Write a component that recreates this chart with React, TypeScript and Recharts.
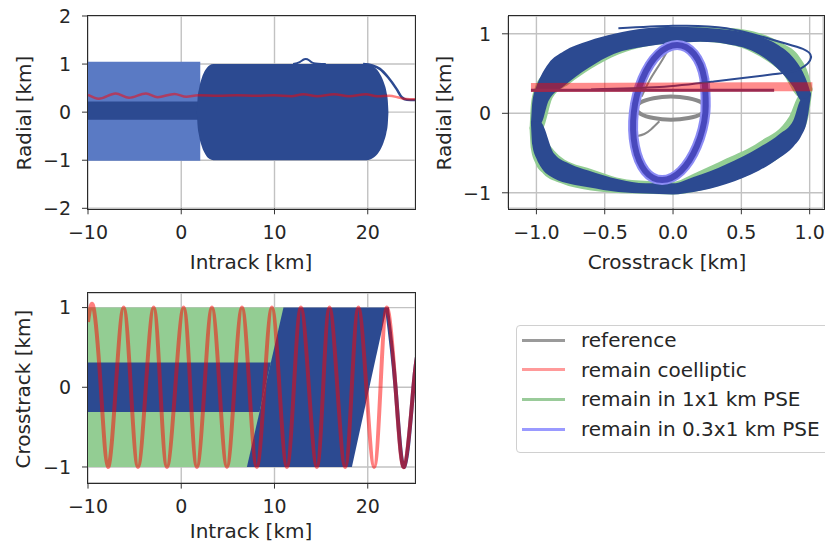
import React from 'react';
import { ComposedChart, Area, Line, XAxis, YAxis, CartesianGrid } from 'recharts';

const FONT = "'DejaVu Sans', sans-serif";
const DARK_BLUE = '#2c4a91';
const LIGHT_BLUE = '#5a7ac4';
const GREEN = '#93cd93';
const RED = '#ff0000';
const LAVENDER = '#8c8cf4';
const PURPLE = '#4848bc';
const GRAY = '#8a8a8a';

// ---- top left: intrack vs radial ----  rows are [x, low, high] or [x, y]
const radialLightBand = [[-10, -1.01, 1.05], [2.04, -1.01, 1.05]];
const radialCoreBand = [[-10, -0.16, 0.22], [2.2, -0.16, 0.22]];
const radialBlob = [
  [1.68, 0, 0], [1.75, -0.28, 0.28], [1.9, -0.48, 0.48], [2.2, -0.71, 0.71], [2.6, -0.88, 0.88],
  [3.0, -0.97, 0.97], [3.46, -1.0, 1.0], [19.9, -1.0, 1.0], [20.6, -0.95, 0.95], [21.2, -0.83, 0.83],
  [21.7, -0.63, 0.63], [22.0, -0.43, 0.43], [22.15, -0.24, 0.24], [22.22, 0, 0],
];
const radialBump = [[12.0, 1.0], [12.7, 1.04], [13.2, 1.1], [13.7, 1.08], [14.2, 1.02], [15.5, 1.0]];
const radialTrail = [[19.5, 1.0], [20.5, 0.97], [21.3, 0.9], [22.2, 0.72], [23.1, 0.48], [23.65, 0.31], [24.2, 0.26], [25.3, 0.25]];
const radialCoelliptic = [
  [-10, 0.36], [-8.85, 0.28], [-7.04, 0.39], [-5.6, 0.3], [-3.79, 0.39], [-2.53, 0.31], [-0.72, 0.38],
  [0.54, 0.32], [1.8, 0.35], [4, 0.34], [6, 0.35], [8, 0.34], [10, 0.35], [11.8, 0.33], [13.1, 0.37],
  [14.6, 0.33], [16.4, 0.37], [18, 0.33], [19.8, 0.37], [21, 0.33], [22.3, 0.34], [23.2, 0.31],
  [23.8, 0.28], [24.5, 0.27], [25.3, 0.27],
];

// ---- top right: crosstrack vs radial ----
const greenRingUpper = [
  [-1.05, -0.2, -0.2], [-1.04, -0.2, 0.12], [-1.01, -0.2, 0.33], [-0.96, -0.2, 0.48], [-0.88, 0.2, 0.64],
  [-0.76, 0.37, 0.79], [-0.6, 0.56, 0.91], [-0.4, 0.74, 1.0], [-0.2, 0.84, 1.06], [0.0, 0.88, 1.09],
  [0.2, 0.9, 1.09], [0.45, 0.85, 1.07], [0.63, 0.72, 1.01], [0.8, 0.5, 0.88], [0.93, 0.2, 0.7],
  [0.99, 0.2, 0.5], [1.02, 0.3, 0.3],
];
const greenRingLower = [
  [-1.05, -0.2, -0.17], [-1.04, -0.45, -0.17], [-1.01, -0.62, -0.17], [-0.95, -0.76, -0.3], [-0.82, -0.88, -0.55],
  [-0.6, -0.97, -0.7], [-0.3, -1.01, -0.84], [0.0, -1.02, -0.86], [0.15, -0.99, -0.76], [0.39, -0.88, -0.57],
  [0.63, -0.71, -0.36], [0.85, -0.45, -0.04], [0.93, -0.28, 0.23], [0.99, -0.05, 0.23], [1.02, 0.3, 0.33],
];
const blueRingUpper = [
  [-1.04, -0.13, -0.13], [-1.03, -0.13, 0.14], [-1.0, -0.13, 0.34], [-0.97, -0.13, 0.46], [-0.91, 0.16, 0.63],
  [-0.8, 0.34, 0.78], [-0.62, 0.57, 0.91], [-0.43, 0.75, 1.0], [-0.2, 0.84, 1.07], [0.0, 0.88, 1.09],
  [0.2, 0.9, 1.08], [0.4, 0.87, 1.05], [0.51, 0.83, 1.02], [0.63, 0.74, 0.97], [0.76, 0.57, 0.87],
  [0.88, 0.33, 0.7], [0.94, 0.16, 0.55], [0.98, 0.16, 0.4], [1.01, 0.24, 0.24],
];
const blueRingLower = [
  [-1.04, -0.13, -0.1], [-1.03, -0.4, -0.1], [-1.0, -0.57, -0.1], [-0.97, -0.67, -0.11], [-0.87, -0.82, -0.51],
  [-0.75, -0.89, -0.64], [-0.62, -0.93, -0.72], [-0.4, -0.99, -0.83], [-0.2, -1.01, -0.88], [0.0, -1.02, -0.88],
  [0.15, -0.99, -0.8], [0.27, -0.95, -0.73], [0.39, -0.89, -0.64], [0.63, -0.72, -0.43], [0.78, -0.56, -0.26],
  [0.88, -0.42, -0.09], [0.94, -0.28, 0.18], [0.98, -0.1, 0.19], [1.01, 0.24, 0.27],
];
const narrowPseLoop = [
  [0.237, 0.01], [0.229, 0.435], [0.154, 0.746], [0.03, 0.86], [-0.108, 0.746], [-0.224, 0.435],
  [-0.287, 0.01], [-0.279, -0.415], [-0.204, -0.726], [-0.08, -0.84], [0.058, -0.726], [0.174, -0.415],
  [0.237, 0.01], [0.229, 0.435],
];
const referenceLoop = [
  [0.24, 0.065], [0.206, 0.138], [0.113, 0.19], [-0.015, 0.21], [-0.143, 0.19], [-0.236, 0.138],
  [-0.27, 0.065], [-0.236, -0.008], [-0.143, -0.06], [-0.015, -0.08], [0.113, -0.06], [0.206, -0.008],
  [0.24, 0.065], [0.206, 0.138],
];
const referenceApproach = [[-0.01, 0.88], [-0.09, 0.64], [-0.17, 0.42], [-0.23, 0.21]];
const referenceExit = [[-0.1, -0.1], [-0.16, -0.2], [-0.21, -0.26], [-0.27, -0.29]];
const coellipticBand = [[-1.04, 0.325], [1.02, 0.335]];
const coellipticCore = [[-1.04, 0.29], [0.74, 0.29]];
const departLoop = [
  [-0.6, 0.3], [-0.1, 0.33], [0.3, 0.4], [0.73, 0.49], [0.93, 0.56], [1.01, 0.7], [0.95, 0.81],
  [0.76, 0.91], [0.39, 1.07], [0.0, 1.1], [-0.4, 1.07],
];

// ---- bottom left: intrack vs crosstrack ----
const crossGreen = [[-10, -1, 1], [11.0, -1, 1]];
const crossCoreBand = [[-10, -0.31, 0.31], [8.39, -0.31, 0.31], [9.61, 0.31, 0.31]];
const crossSweep = [[7.04, -1, -1], [10.96, -1, 1], [18.3, -1, 1], [22.05, 1, 1]];
const crossTrail = [[22.05, 1], [22.98, 0], [23.9, -1], [24.9, 0], [25.4, 0.45]];
const crossCoelliptic = [
  [-10, 0.82], [-9.4, 1], [-8.63, 0], [-7.86, -1], [-7.02, 0], [-6.18, 1], [-5.41, 0], [-4.64, -1],
  [-3.8, 0], [-2.96, 1], [-2.25, 0], [-1.53, -1], [-0.64, 0], [0.25, 1], [0.97, 0], [1.68, -1],
  [2.49, 0], [3.29, 1], [4.1, 0], [4.9, -1], [5.7, 0], [6.51, 1], [7.3, 0], [8.1, -1], [8.91, 0],
  [9.72, 1], [10.53, 0], [11.33, -1], [12.08, 0], [12.83, 1], [13.69, 0], [14.54, -1], [15.22, 0],
  [15.9, 1], [16.74, 0], [17.58, -1], [18.29, 0], [19.0, 1], [19.85, 0], [20.69, -1], [21.37, 0],
  [22.05, 1], [22.98, 0], [23.9, -1], [24.9, 0], [25.4, 0.45],
];

const intrackTicks = [-10, 0, 10, 20];
const radialTicks = [-2, -1, 0, 1, 2];
const unitTicks = [-1, 0, 1];
const crossTicks = [-1, -0.5, 0, 0.5, 1];

const legendItems = [
  { label: 'reference', color: '#9a9a9a' },
  { label: 'remain coelliptic', color: '#ff9a9a' },
  { label: 'remain in 1x1 km PSE', color: '#9acb9a' },
  { label: 'remain in 0.3x1 km PSE', color: '#9a9aff' },
];

const minus = (s: string) => s.replace('-', '\u2212');
const intFmt = (v: number) => minus(String(v));
const oneDec = (v: number) => minus(v.toFixed(1));

const rng = (rows: number[][]) => rows.map(([x, lo, hi]) => ({ x, v: [lo, hi] }));
const pts = (rows: number[][]) => rows.map(([x, y]) => ({ x, y }));

function band(key: string, rows: number[][], fill: string, type: any = 'linear', opacity = 1) {
  return (
    <Area key={key} data={rng(rows)} dataKey="v" type={type} fill={fill} fillOpacity={opacity}
      stroke="none" isAnimationActive={false} />
  );
}

function path(key: string, rows: number[][], color: string, width: number, type: any = 'natural', opacity = 1) {
  return (
    <Line key={key} data={pts(rows)} dataKey="y" type={type} stroke={color} strokeWidth={width}
      strokeOpacity={opacity} dot={false} activeDot={false} isAnimationActive={false} />
  );
}

const tickStyle = { fontSize: 19, fill: '#262626', fontFamily: FONT };

function Panel({ L, T, R, B, xDomain, yDomain, xTicks, yTicks, xFmt, yFmt, children }: any) {
  const YW = 80;
  const XH = 45;
  const top = 14;
  const right = 6;
  return (
    <>
      <div style={{ position: 'absolute', left: L - YW, top: T - top }}>
        <ComposedChart width={R - L + YW + right} height={B - T + top + XH}
          margin={{ top, right, bottom: 0, left: 0 }}>
          <CartesianGrid stroke="#c2c2c2" strokeWidth={1.4} />
          <XAxis type="number" dataKey="x" domain={xDomain} ticks={xTicks} interval={0} allowDataOverflow
            height={XH} tickSize={6} tickMargin={11} axisLine={false} tickLine={{ stroke: '#333' }}
            tick={tickStyle} tickFormatter={xFmt} />
          <YAxis type="number" domain={yDomain} ticks={yTicks} interval={0} allowDataOverflow
            width={YW} tickSize={6} tickMargin={11} axisLine={false} tickLine={{ stroke: '#333' }}
            tick={tickStyle} tickFormatter={yFmt} />
          {children}
        </ComposedChart>
      </div>
      <div style={{
        position: 'absolute', left: L - 0.75, top: T - 0.75, width: R - L, height: B - T,
        border: '1.5px solid #2a2a2a', pointerEvents: 'none',
      }} />
    </>
  );
}

function AxisLabel({ x, y, text, rotate }: { x: number; y: number; text: string; rotate?: boolean }) {
  return (
    <div style={{
      position: 'absolute', left: x, top: y, whiteSpace: 'nowrap', fontSize: 20, lineHeight: '20px',
      color: '#262626', transform: `translate(-50%, -50%)${rotate ? ' rotate(-90deg)' : ''}`,
    }}>{text}</div>
  );
}

export default function App() {
  return (
    <div style={{
      position: 'absolute', left: 0, top: 0, width: 825, height: 550, background: '#fff',
      fontFamily: FONT, overflow: 'hidden',
    }}>
      <Panel L={87.7} T={16} R={415} B={208.3} xDomain={[-10, 25.1]} yDomain={[-2, 2]}
        xTicks={intrackTicks} yTicks={radialTicks} xFmt={intFmt} yFmt={intFmt}>
        {band('light', radialLightBand, LIGHT_BLUE)}
        {band('core', radialCoreBand, DARK_BLUE)}
        {band('blob', radialBlob, DARK_BLUE, 'monotone')}
        {path('bump', radialBump, DARK_BLUE, 2)}
        {path('trail', radialTrail, DARK_BLUE, 2.5, 'monotone')}
        {path('coell', radialCoelliptic, RED, 2.5, 'monotone', 0.5)}
      </Panel>

      <Panel L={508.3} T={16} R={823.5} B={208.3} xDomain={[-1.208, 1.099]} yDomain={[-1.195, 1.224]}
        xTicks={crossTicks} yTicks={unitTicks} xFmt={oneDec} yFmt={intFmt}>
        {band('gU', greenRingUpper, GREEN, 'monotone')}
        {band('gL', greenRingLower, GREEN, 'monotone')}
        {band('bU', blueRingUpper, DARK_BLUE, 'monotone')}
        {band('bL', blueRingLower, DARK_BLUE, 'monotone')}
        {path('refA', referenceApproach, GRAY, 2)}
        {path('refE', referenceExit, GRAY, 2)}
        {path('refL', referenceLoop, GRAY, 4)}
        {path('pseOuter', narrowPseLoop, LAVENDER, 10)}
        {path('pseInner', narrowPseLoop, PURPLE, 6)}
        {path('depart', departLoop, DARK_BLUE, 2)}
        {path('cBand', coellipticBand, RED, 9, 'linear', 0.45)}
        {path('cCore', coellipticCore, '#9a2a50', 3, 'linear')}
      </Panel>

      <Panel L={87.7} T={292.7} R={415} B={482.3} xDomain={[-10, 25.1]} yDomain={[-1.196, 1.183]}
        xTicks={intrackTicks} yTicks={unitTicks} xFmt={intFmt} yFmt={intFmt}>
        {band('green', crossGreen, GREEN)}
        {band('core', crossCoreBand, DARK_BLUE)}
        {band('sweep', crossSweep, DARK_BLUE)}
        {path('trail', crossTrail, DARK_BLUE, 4)}
        {path('coell', crossCoelliptic, RED, 4, 'natural', 0.5)}
      </Panel>

      <AxisLabel x={24} y={113} text="Radial [km]" rotate />
      <AxisLabel x={251} y={262} text="Intrack [km]" />
      <AxisLabel x={444} y={113} text="Radial [km]" rotate />
      <AxisLabel x={667} y={262} text="Crosstrack [km]" />
      <AxisLabel x={23} y={389} text="Crosstrack [km]" rotate />
      <AxisLabel x={251} y={531} text="Intrack [km]" />

      <div style={{
        position: 'absolute', left: 516, top: 325, width: 312, height: 126,
        border: '1px solid #d0d0d0', borderRadius: 4, background: '#fff',
      }} />
      {legendItems.map((item, i) => {
        const y = 340 + i * 29.7;
        return (
          <React.Fragment key={item.label}>
            <div style={{ position: 'absolute', left: 522, top: y - 1.5, width: 43, height: 3, background: item.color }} />
            <div style={{
              position: 'absolute', left: 581, top: y, transform: 'translateY(-50%)', fontSize: 20,
              lineHeight: '20px', whiteSpace: 'nowrap', color: '#262626',
            }}>{item.label}</div>
          </React.Fragment>
        );
      })}
    </div>
  );
}
